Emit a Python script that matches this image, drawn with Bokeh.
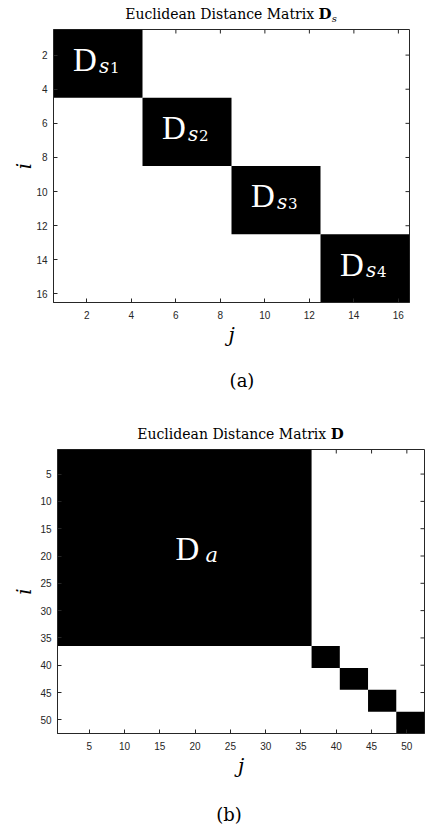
import numpy as np
from bokeh.plotting import figure
from bokeh.models import Range1d, FixedTicker, ColumnDataSource, Div
from bokeh.layouts import column
from bokeh.core.properties import value
from bokeh.embed import file_html
from bokeh.resources import INLINE

# ---------------- data ----------------
sizes_a = [4, 4, 4, 4]                 # diagonal block sizes, panel (a)
sub_a = ["s", "s", "s", "s"]           # block label subscripts
idx_a = ["1", "2", "3", "4"]           # sub-subscripts
ticks_a = [2, 4, 6, 8, 10, 12, 14, 16]

sizes_b = [36, 4, 4, 4, 4]             # diagonal block sizes, panel (b)
sub_b = ["a"]                          # only the first block is labelled
ticks_b = [5, 10, 15, 20, 25, 30, 35, 40, 45, 50]

title_main = "Euclidean Distance Matrix "
title_sym = "D"
title_sub_a = "s"
caption_a = "(a)"
caption_b = "(b)"
xlabel = "j"
ylabel = "i"

AX = "#262626"
W = 425
LIFT = 9  # px: vertical correction for block label glyphs


def block_source(sizes):
    ends = np.cumsum(sizes)
    starts = ends - np.array(sizes)
    lo = starts + 0.5
    hi = ends + 0.5
    return ColumnDataSource(dict(left=lo, right=hi, top=lo, bottom=hi,
                                 center=(lo + hi) / 2))


def panel(n, ticks, H, bl, br, bt, bb, lab_x_standoff, lab_y_standoff):
    fw = W - bl - br
    fh = H - bt - bb
    p = figure(width=W, height=H, x_range=Range1d(0.5, n + 0.5),
               y_range=Range1d(n + 0.5, 0.5), output_backend="svg",
               toolbar_location=None, min_border_left=bl, min_border_right=br,
               min_border_top=bt, min_border_bottom=bb, margin=0,
               frame_align=False,
               background_fill_color="white", border_fill_color="white")
    p.xgrid.visible = False
    p.ygrid.visible = False
    p.outline_line_color = AX
    p.outline_line_width = 1
    for ax in [p.xaxis[0], p.yaxis[0]]:
        ax.ticker = FixedTicker(ticks=ticks)
        ax.major_tick_in = 4
        ax.major_tick_out = 0
        ax.minor_tick_in = 0
        ax.minor_tick_out = 0
        ax.axis_line_color = AX
        ax.major_tick_line_color = AX
        ax.major_label_text_font = "Liberation Sans"
        ax.major_label_text_font_size = "10px"
        ax.major_label_text_color = AX
        ax.axis_label_text_font = "DejaVu Serif"
        ax.axis_label_text_font_style = "italic"
        ax.axis_label_text_font_size = "20px"
        ax.axis_label_text_color = "black"
    p.xaxis[0].major_label_standoff = 8
    p.yaxis[0].major_label_standoff = 6
    p.xaxis[0].axis_label = xlabel
    p.yaxis[0].axis_label = ylabel
    p.xaxis[0].axis_label_standoff = lab_x_standoff
    p.yaxis[0].axis_label_standoff = lab_y_standoff
    # inward tick marks on the top and right edges (box on)
    t = np.array(ticks, dtype=float)
    tx = 4 * n / fw
    ty = 4 * n / fh
    p.segment(x0=t, y0=np.full(t.size, 0.5), x1=t, y1=np.full(t.size, 0.5 + ty),
              line_color=AX, line_width=1)
    p.segment(x0=np.full(t.size, n + 0.5), y0=t, x1=np.full(t.size, n + 0.5 - tx),
              y1=t, line_color=AX, line_width=1)
    return p, n / fw, n / fh


def title_div(left, fw, height, pad, sub):
    sub_html = ("" if not sub else
                f'<i style="font-size:10px;vertical-align:-3px">{sub}</i>')
    html = (f'<div style="margin-left:{left}px;width:{fw}px;text-align:center;'
            f'font-family:\'DejaVu Serif\';font-size:14px;line-height:16px;'
            f'padding-top:{pad}px;color:#000;white-space:nowrap">'
            f'{title_main}<b style="font-size:15px">{title_sym}</b>{sub_html}</div>')
    return Div(text=html, width=W, height=height, margin=0)


def caption_div(cx, height, pad, text):
    html = (f'<div style="padding-left:{cx - 50}px;padding-top:{pad}px">'
            f'<div style="width:100px;text-align:center;'
            f'font-family:\'DejaVu Serif\';font-size:18px;line-height:22px;'
            f'color:#000">{text}</div></div>')
    return Div(text=html, width=W, height=height, margin=0)


def block_text(p, xs, ys, texts, font, size, style="normal"):
    p.text(x=xs, y=ys, text=texts, text_font=value(font),
           text_font_size=value(size), text_font_style=value(style),
           text_color="white", text_align="left", text_baseline="alphabetic")


# ---------------- panel (a) ----------------
pa, sx, sy = panel(16, ticks_a, 322, 53, 16, 1, 48, 1, -3)
src_a = block_source(sizes_a)
pa.quad(left="left", right="right", top="top", bottom="bottom", source=src_a,
        fill_color="black", line_color=None)
ca = src_a.data["center"]
block_text(pa, ca - 25 * sx, ca + (5.3 - LIFT) * sy, ["D"] * len(ca),
           "Liberation Serif", "33px")
block_text(pa, ca + 1 * sx, ca + (11 - LIFT) * sy, sub_a,
           "DejaVu Serif", "20px", "italic")
block_text(pa, ca + 12 * sx, ca + (12.5 - LIFT) * sy, idx_a,
           "DejaVu Serif", "15px")

# ---------------- panel (b) ----------------
pb, bx, by = panel(52, ticks_b, 333, 57, 1, 1, 48, 1, 1)
src_b = block_source(sizes_b)
pb.quad(left="left", right="right", top="top", bottom="bottom", source=src_b,
        fill_color="black", line_color=None)
cb = src_b.data["center"][:len(sub_b)]
block_text(pb, cb - 9 * bx, cb + (9.7 - LIFT) * by, ["D"] * len(cb),
           "Liberation Serif", "33px")
block_text(pb, cb + 21 * bx, cb + (15.7 - LIFT) * by, sub_b,
           "DejaVu Serif", "21px", "italic")

layout = column(
    title_div(53, 356, 28, 6, title_sub_a),
    pa,
    caption_div(242, 66, 20, caption_a),
    title_div(57, 367, 32, 10, ""),
    pb,
    caption_div(229, 46, 23, caption_b),
    spacing=0, margin=0,
)
open("out.html", "w").write(file_html(layout, INLINE))
